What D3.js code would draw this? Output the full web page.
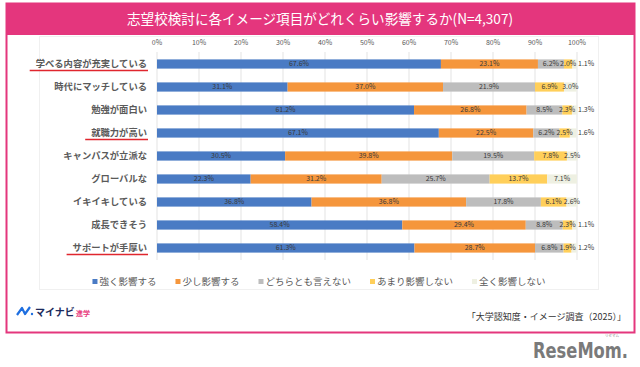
<!DOCTYPE html>
<html>
<head>
<meta charset="utf-8">
<script src="https://cdn.jsdelivr.net/npm/d3@7"></script>
<style>
  body { margin: 0; background: #fff; }
  svg { display: block; font-family: "Noto Sans CJK JP", "Noto Sans", sans-serif; }
</style>
</head>
<body>
<div id="chart"></div>
<script>
const categories = [
  "学べる内容が充実している",
  "時代にマッチしている",
  "勉強が面白い",
  "就職力が高い",
  "キャンパスが立派な",
  "グローバルな",
  "イキイキしている",
  "成長できそう",
  "サポートが手厚い",
];
const highlighted = ["学べる内容が充実している", "就職力が高い", "サポートが手厚い"];

const seriesNames = ["強く影響する", "少し影響する", "どちらとも言えない", "あまり影響しない", "全く影響しない"];
const strongly = [67.6, 31.1, 61.2, 67.1, 30.5, 22.3, 36.8, 58.4, 61.3];
const somewhat = [23.1, 37.0, 26.8, 22.5, 39.8, 31.2, 36.8, 29.4, 28.7];
const neither = [6.2, 21.9, 8.5, 6.2, 19.5, 25.7, 17.8, 8.8, 6.8];
const notMuch = [2.0, 6.9, 2.3, 2.5, 7.8, 13.7, 6.1, 2.3, 1.9];
const notAtAll = [1.1, 3.0, 1.3, 1.6, 2.5, 7.1, 2.6, 1.1, 1.2];
const xTicks = [0, 10, 20, 30, 40, 50, 60, 70, 80, 90, 100];

const colors = ["#4a7bc4", "#f5963c", "#bdbdbd", "#ffcf5a", "#eef0e2"];

const width = 640;
const height = 367;
const pink = "#e4367d";

const table = categories.map((c, i) => ({
  category: c,
  s0: strongly[i],
  s1: somewhat[i],
  s2: neither[i],
  s3: notMuch[i],
  s4: notAtAll[i],
}));
const keys = ["s0", "s1", "s2", "s3", "s4"];

const svg = d3
  .select("#chart")
  .append("svg")
  .attr("width", width)
  .attr("height", height);

// frame + title bar
svg.append("rect")
  .attr("x", 6.5).attr("y", 3.5)
  .attr("width", 628).attr("height", 329)
  .attr("fill", "#fff")
  .attr("stroke", pink)
  .attr("stroke-width", 2);

svg.append("rect")
  .attr("x", 6).attr("y", 3)
  .attr("width", 629).attr("height", 32)
  .attr("fill", pink);

svg.append("text")
  .attr("x", 320).attr("y", 24)
  .attr("text-anchor", "middle")
  .attr("fill", "#fff")
  .attr("font-size", 14)
  .attr("textLength", 386)
  .attr("lengthAdjust", "spacingAndGlyphs")
  .text("志望校検討に各イメージ項目がどれくらい影響するか(N=4,307)");

// faint chart-area border
svg.append("rect")
  .attr("x", 39.5).attr("y", 36.5)
  .attr("width", 559).attr("height", 253)
  .attr("fill", "none")
  .attr("stroke", "#f0f0f0")
  .attr("stroke-width", 1);

const xScale = d3.scaleLinear().domain([0, 100]).range([157, 577]);
const yScale = d3.scaleBand()
  .domain(categories)
  .range([52.5, 259.5])
  .paddingInner(0.6)
  .paddingOuter(0.3);

// gridlines
svg.append("g")
  .selectAll("line")
  .data(xTicks)
  .join("line")
  .attr("x1", (d) => xScale(d)).attr("x2", (d) => xScale(d))
  .attr("y1", 52).attr("y2", 260)
  .attr("stroke", "#dcdcdc")
  .attr("stroke-width", 0.8);

// top tick labels
svg.append("g")
  .selectAll("text")
  .data(xTicks)
  .join("text")
  .attr("x", (d) => xScale(d))
  .attr("y", 45)
  .attr("text-anchor", "middle")
  .attr("font-size", 7)
  .attr("fill", "#595959")
  .text((d) => d + "%");

// category labels
const catLabels = svg.append("g")
  .selectAll("text")
  .data(categories)
  .join("text")
  .attr("x", 147)
  .attr("y", (d) => yScale(d) + yScale.bandwidth() / 2)
  .attr("dy", "0.35em")
  .attr("text-anchor", "end")
  .attr("font-size", 9.3)
  .attr("font-weight", "bold")
  .attr("fill", "#5a5a5a")
  .text((d) => d);

catLabels.filter((d) => highlighted.includes(d)).each(function (d) {
  const bb = this.getBBox();
  svg.append("line")
    .attr("x1", bb.x - 6).attr("x2", bb.x + bb.width + 1)
    .attr("y1", yScale(d) + yScale.bandwidth() / 2 + 6.5)
    .attr("y2", yScale(d) + yScale.bandwidth() / 2 + 6.5)
    .attr("stroke", "#e0262e")
    .attr("stroke-width", 1.6);
});

// stacked bars
const stacked = d3.stack().keys(keys)(table);

const layers = svg.append("g")
  .selectAll("g")
  .data(stacked)
  .join("g")
  .attr("fill", (d, i) => colors[i]);

layers.selectAll("rect")
  .data((d) => d)
  .join("rect")
  .attr("x", (d) => xScale(d[0]))
  .attr("y", (d) => yScale(d.data.category))
  .attr("width", (d) => xScale(d[1]) - xScale(d[0]))
  .attr("height", yScale.bandwidth());

// value labels
svg.append("g")
  .selectAll("g")
  .data(stacked)
  .join("g")
  .selectAll("text")
  .data((layer, li) => layer.map((d) => ({ d, li })))
  .join("text")
  .attr("x", ({ d, li }) =>
    li === 4 && d[1] - d[0] < 2 ? xScale(100) + 1 : xScale((d[0] + d[1]) / 2)
  )
  .attr("y", ({ d }) => yScale(d.data.category) + yScale.bandwidth() / 2)
  .attr("dy", "0.35em")
  .attr("text-anchor", ({ d, li }) => (li === 4 && d[1] - d[0] < 2 ? "start" : "middle"))
  .attr("font-size", 7)
  .attr("fill", "#3a3a3a")
  .text(({ d }) => (d[1] - d[0]).toFixed(1) + "%");

// legend
const legend = svg.append("g");
let lx = 0;
const legendGap = 19;
seriesNames.forEach((name, i) => {
  const g = legend.append("g").attr("transform", `translate(${lx},0)`);
  g.append("rect")
    .attr("x", 0).attr("y", -6)
    .attr("width", 5).attr("height", 5)
    .attr("fill", colors[i]);
  const t = g.append("text")
    .attr("x", 7).attr("y", 0)
    .attr("font-size", 9.5)
    .attr("fill", "#595959")
    .text(name);
  lx += 7 + t.node().getComputedTextLength() + legendGap;
});
const legendWidth = lx - legendGap;
legend.attr("transform", `translate(${319 - legendWidth / 2},285)`);

// footer: mynavi logo
svg.append("path")
  .attr("d", "M17,315 L22,308 L25,314 L30,307")
  .attr("fill", "none")
  .attr("stroke", "#1f6fe0")
  .attr("stroke-width", 2.2)
  .attr("stroke-linejoin", "round");
svg.append("circle")
  .attr("cx", 32).attr("cy", 314).attr("r", 1.2)
  .attr("fill", "#1f6fe0");
svg.append("text")
  .attr("x", 35).attr("y", 316)
  .attr("font-size", 10)
  .attr("font-weight", "bold")
  .attr("fill", "#1c2a5c")
  .text("マイナビ");
svg.append("text")
  .attr("x", 76).attr("y", 316)
  .attr("font-size", 7)
  .attr("font-weight", "bold")
  .attr("fill", "#e8407f")
  .text("進学");

svg.append("text")
  .attr("x", 626).attr("y", 320)
  .attr("text-anchor", "end")
  .attr("font-size", 9)
  .attr("fill", "#333")
  .text("「大学認知度・イメージ調査（2025）」");

// resemom mark
svg.append("text")
  .attr("x", 533).attr("y", 358)
  .attr("font-family", "'Liberation Sans Narrow', 'DejaVu Sans Condensed', sans-serif")
  .attr("font-size", 21)
  .attr("font-weight", "bold")
  .attr("fill", "#7a7a7a")
  .attr("textLength", 95)
  .attr("lengthAdjust", "spacingAndGlyphs")
  .text("ReseMom.");
svg.append("text")
  .attr("x", 612).attr("y", 337)
  .attr("text-anchor", "middle")
  .attr("font-size", 3.5)
  .attr("fill", "#888")
  .text("リセマム");
</script>
</body>
</html>
